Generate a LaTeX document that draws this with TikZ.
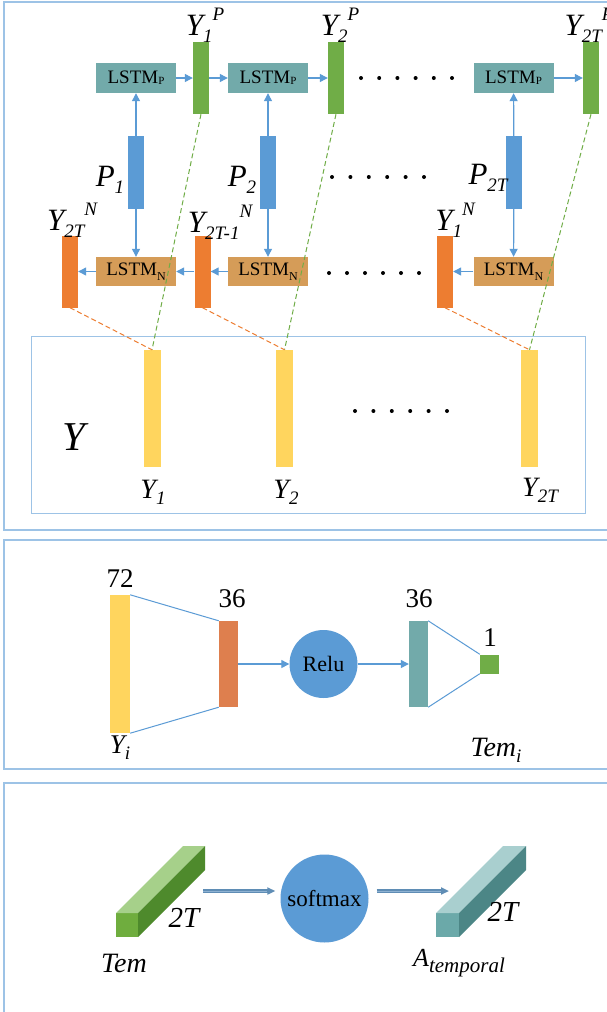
\documentclass[tikz,border=0pt]{standalone}
\usepackage{fontspec}
\setmainfont{Liberation Serif}
\usetikzlibrary{arrows.meta,calc,positioning,shapes.geometric}
\definecolor{lstmTeal}{HTML}{72AAAA}
\definecolor{lstmTan}{HTML}{D59C58}
\definecolor{barGreen}{HTML}{70AD47}
\definecolor{barOrange}{HTML}{ED7D31}
\definecolor{barBlue}{HTML}{5B9BD5}
\definecolor{barYellow}{HTML}{FFD55E}
\definecolor{frameBlue}{HTML}{9DC3E6}
\definecolor{hidCoral}{HTML}{DE7F4E}
\definecolor{arrGray}{HTML}{5F8DB5}
\definecolor{arrLight}{HTML}{8FB2D2}
\definecolor{cubeGreenF}{HTML}{6FAD3E}
\definecolor{cubeGreenT}{HTML}{A6D08A}
\definecolor{cubeGreenS}{HTML}{4E8A2C}
\definecolor{cubeTealF}{HTML}{6BA9A9}
\definecolor{cubeTealT}{HTML}{A9CFCF}
\definecolor{cubeTealS}{HTML}{4C8686}
\newcommand{\lowTxt}[1]{\raisebox{-0.22em}{\fontsize{19}{19}\selectfont #1}}
\newcommand{\highTxt}[1]{\raisebox{0.5em}{\fontsize{19}{19}\selectfont #1}}
\newcommand{\subP}{\raisebox{-0.05em}{\fontsize{11}{11}\selectfont P}}
\newcommand{\subN}{\raisebox{-0.25em}{\fontsize{12}{12}\selectfont N}}

\begin{document}
\begin{tikzpicture}[x=1pt,y=-1pt,
  box/.style={minimum width=80, minimum height=30, inner sep=0, font=\fontsize{19}{19}\selectfont},
  bar/.style={minimum width=16, minimum height=72, inner sep=0},
  lbl/.style={font=\fontsize{31}{31}\selectfont\itshape, inner sep=0},
  num/.style={font=\fontsize{27}{27}\selectfont, inner sep=0},
  link/.style={barBlue, line width=1.2, -{Triangle[length=8pt,width=8pt]}},
  wire/.style={barBlue, line width=1},
  dashlink/.style={dashed, dash pattern=on 5pt off 3pt, line width=1},
  flat/.style={arrGray, line width=3.5, -{Triangle[length=8pt,width=7pt]}},
  flatcore/.style={arrLight, line width=1, shorten >=8pt}]
\useasboundingbox (0,0) rectangle (607,1012);
\fill[white] (0,0) rectangle (607,1012);

% panels
\draw[frameBlue, line width=1.5] (4,2) rectangle (615,530);
\draw[frameBlue, line width=1.5] (4,540) rectangle (615,769);
\draw[frameBlue, line width=1.5] (4,783) rectangle (615,1020);
\draw[frameBlue, line width=0.8] (31,336) rectangle (585,513);

% forward LSTM row
\node[box, fill=lstmTeal] (lp1) at (136,78) {LSTM\subP};
\node[box, fill=lstmTeal] (lp2) at (268,78) {LSTM\subP};
\node[box, fill=lstmTeal] (lp3) at (513.5,78) {LSTM\subP};
\node[bar, fill=barGreen] (yp1) at (201,78) {};
\node[bar, fill=barGreen] (yp2) at (336,78) {};
\node[bar, fill=barGreen] (yp3) at (591,78) {};

% inputs P
\node[bar, fill=barBlue, minimum height=73] (p1) at (136,172.5) {};
\node[bar, fill=barBlue, minimum height=73] (p2) at (268,172.5) {};
\node[bar, fill=barBlue, minimum height=73] (p3) at (514,172.5) {};

% backward LSTM row
\node[box, fill=lstmTan, minimum height=29] (ln1) at (136,271.5) {LSTM\subN};
\node[box, fill=lstmTan, minimum height=29] (ln2) at (268,271.5) {LSTM\subN};
\node[box, fill=lstmTan, minimum height=29] (ln3) at (513.5,271.5) {LSTM\subN};
\node[bar, fill=barOrange] (yn1) at (70,271.5) {};
\node[bar, fill=barOrange] (yn2) at (202.5,271.5) {};
\node[bar, fill=barOrange] (yn3) at (445,271.5) {};

% outputs Y
\node[bar, fill=barYellow, minimum width=17, minimum height=117] (y1) at (152,408.5) {};
\node[bar, fill=barYellow, minimum width=17, minimum height=117] (y2) at (284.5,408.5) {};
\node[bar, fill=barYellow, minimum width=17, minimum height=117] (y3) at (529.5,408.5) {};

\draw[link] (lp1) -- (yp1);
\draw[link] (yp1) -- (lp2);
\draw[link] (lp2) -- (yp2);
\draw[link] (lp3) -- (yp3);
\foreach \i in {1,2,3} {
  \draw[link] (p\i) -- (lp\i);
  \draw[link] (p\i) -- (ln\i);
  \draw[link] (ln\i) -- (yn\i);
  \draw[dashlink, barGreen] (yp\i.south) -- (y\i.north);
  \draw[dashlink, barOrange] (yn\i.south) -- (y\i.north);
}
\draw[link] (yn2) -- (ln1);

\foreach \i in {0,...,5} {
  \fill (361+18.2*\i,78) circle (2);
  \fill (332+18.4*\i,177) circle (2);
  \fill (329+18*\i,273) circle (2);
  \fill (355+18.4*\i,411) circle (2);
}

% labels
\node[lbl] (typ1) at (205,25) {Y\lowTxt{1}\highTxt{P}};
\node[lbl] (typ2) at (340,25) {Y\lowTxt{2}\highTxt{P}};
\node[lbl] (typ3) at (589,25) {Y\lowTxt{2T}\highTxt{P}};
\node[lbl] (tp1) at (110,180) {P\lowTxt{1}};
\node[lbl] (tp2) at (242,180) {P\lowTxt{2}};
\node[lbl] (tp3) at (488,178) {P\lowTxt{2T}};
\node[lbl] (tyn1) at (72,220) {Y\lowTxt{2T}\highTxt{N}};
\node[lbl] (tyn2) at (220,222) {Y\lowTxt{2T-1}\highTxt{N}};
\node[lbl] (tyn3) at (455,220) {Y\lowTxt{1}\highTxt{N}};
\node[lbl, font=\fontsize{41}{41}\selectfont\itshape] (tY) at (74,437) {Y};
\node[lbl, font=\fontsize{28}{28}\selectfont\itshape] (ty1) at (153,492) {Y\lowTxt{1}};
\node[lbl, font=\fontsize{28}{28}\selectfont\itshape] (ty2) at (286,492) {Y\lowTxt{2}};
\node[lbl, font=\fontsize{28}{28}\selectfont\itshape] (ty3) at (540,490) {Y\lowTxt{2T}};

% dense block
\node[bar, fill=barYellow, minimum width=20, minimum height=138] (yi) at (120,664) {};
\node[bar, fill=hidCoral, minimum width=19, minimum height=86] (h1) at (228.5,664) {};
\node[circle, fill=barBlue, minimum size=68, inner sep=0,
  font=\fontsize{22}{22}\selectfont] (relu) at (323.5,664) {Relu};
\node[bar, fill=lstmTeal, minimum width=19, minimum height=86] (h2) at (418.5,664) {};
\node[bar, fill=barGreen, minimum width=19, minimum height=19] (tem) at (489.5,664) {};
\draw[wire] (yi.north east) -- (h1.north west);
\draw[wire] (yi.south east) -- (h1.south west);
\draw[wire] (h2.north east) -- (tem.north west);
\draw[wire] (h2.south east) -- (tem.south west);
\draw[link] (h1) -- (relu);
\draw[link] (relu) -- (h2);
\node[num] (n72) at (120,579) {72};
\node[num] (n36a) at (232,599) {36};
\node[num] (n36b) at (419,599) {36};
\node[num] (n1) at (490,638) {1};
\node[lbl, font=\fontsize{27}{27}\selectfont\itshape] (tyi) at (120,748) {Y\lowTxt{i}};
\node[lbl, font=\fontsize{28}{28}\selectfont\itshape] (ttem) at (496,750) {Tem\lowTxt{i}};

% softmax block
\fill[cubeGreenF] (116,913) rectangle (138,937);
\fill[cubeGreenT] (116,913) -- (138,913) -- (205,846) -- (183,846) -- cycle;
\fill[cubeGreenS] (138,913) -- (205,846) -- (205,870) -- (138,937) -- cycle;
\fill[cubeTealF] (436,913) rectangle (459,937);
\fill[cubeTealT] (436,913) -- (459,913) -- (526,846) -- (503,846) -- cycle;
\fill[cubeTealS] (459,913) -- (526,846) -- (526,870) -- (459,937) -- cycle;
\coordinate (temOut) at (203,891);
\coordinate (attIn) at (449,891);
\node[circle, fill=barBlue, minimum size=88, inner sep=0,
  font=\fontsize{23}{23}\selectfont] (smax) at (324.5,898.5) {softmax};
\draw[flat] (temOut) -- ($(temOut -| smax.west)+(-5,0)$);
\draw[flatcore] (temOut) -- ($(temOut -| smax.west)+(-5,0)$);
\draw[flat] ($(smax.east |- attIn)+(8,0)$) -- (attIn);
\draw[flatcore] ($(smax.east |- attIn)+(8,0)$) -- (attIn);
\node[lbl, font=\fontsize{29}{29}\selectfont\itshape] (t2a) at (184,918) {2T};
\node[lbl, font=\fontsize{29}{29}\selectfont\itshape] (t2b) at (503,912) {2T};
\node[lbl, font=\fontsize{28}{28}\selectfont\itshape] (ttm) at (124,963) {Tem};
\node[lbl, font=\fontsize{26}{26}\selectfont\itshape] (tatt) at (459,963)
  {A\raisebox{-0.22em}{\fontsize{21}{21}\selectfont temporal}};
\end{tikzpicture}
\end{document}
